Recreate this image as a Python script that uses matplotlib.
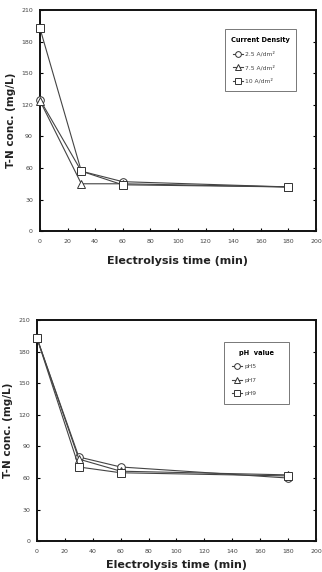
import matplotlib
matplotlib.use("Agg")
import matplotlib.pyplot as plt

time = [0, 30, 60, 180]
cd_labels = ["2.5 A/dm²", "7.5 A/dm²", "10 A/dm²"]
cd_values = [
    [125, 57, 47, 42],
    [124, 45, 45, 42],
    [193, 57, 44, 42],
]
ph_labels = ["pH5", "pH7", "pH9"]
ph_values = [
    [193, 80, 70.5, 60],
    [193, 78, 66.5, 63],
    [193, 70.5, 65, 62],
]
markers = ["o", "^", "s"]
xticks = list(range(0, 201, 20))
yticks = list(range(0, 211, 30))

fig = plt.figure(figsize=(3.22, 5.72), dpi=100)
fig.patch.set_facecolor("white")

def panel(rect, values, labels, title, legbox, xlabelpad):
    ax = fig.add_axes(rect)
    for v, lab, m in zip(values, labels, markers):
        ax.plot(time, v, color="#444444", lw=0.8, marker=m, markersize=5.5,
                markerfacecolor="white", markeredgecolor="#333333",
                markeredgewidth=0.7, label=lab, clip_on=False, zorder=3)
    ax.set_xlim(0, 200)
    ax.set_ylim(0, 210)
    ax.set_xticks(xticks)
    ax.set_yticks(yticks)
    ax.tick_params(axis="both", direction="in", length=2.5, width=0.8,
                   labelsize=4.5, labelcolor="#444444", right=True, pad=5)
    ax.tick_params(axis="x", pad=6)
    for s in ax.spines.values():
        s.set_linewidth(1.4)
        s.set_color("#111111")
        s.set_zorder(2)
    ax.set_ylabel("T-N conc. (mg/L)", fontsize=7.5, fontweight="bold",
                  color="#222222", labelpad=4)
    ax.set_xlabel("Electrolysis time (min)", fontsize=8, fontweight="bold",
                  color="#222222", labelpad=xlabelpad)
    leg = ax.legend(title=title, loc="upper left", bbox_to_anchor=legbox,
                    mode="expand",
                    fontsize=4.3, title_fontproperties={"size": 4.8, "weight": "bold"},
                    frameon=True, fancybox=False, edgecolor="#555555",
                    handlelength=1.8, borderpad=1.3, labelspacing=1.35,
                    handletextpad=0.3, borderaxespad=0, markerscale=0.75)
    leg.get_frame().set_linewidth(0.7)
    leg.set_zorder(5)
    for t in leg.get_texts():
        t.set_color("#444444")
    return ax

panel([0.124, 0.596, 0.857, 0.386], cd_values, cd_labels, "Current Density",
      (0.67, 0, 0.258, 0.914), 8)
panel([0.115, 0.054, 0.866, 0.386], ph_values, ph_labels, "pH  value",
      (0.67, 0, 0.233, 0.90), 4)

fig.savefig("out.png", dpi=100)
